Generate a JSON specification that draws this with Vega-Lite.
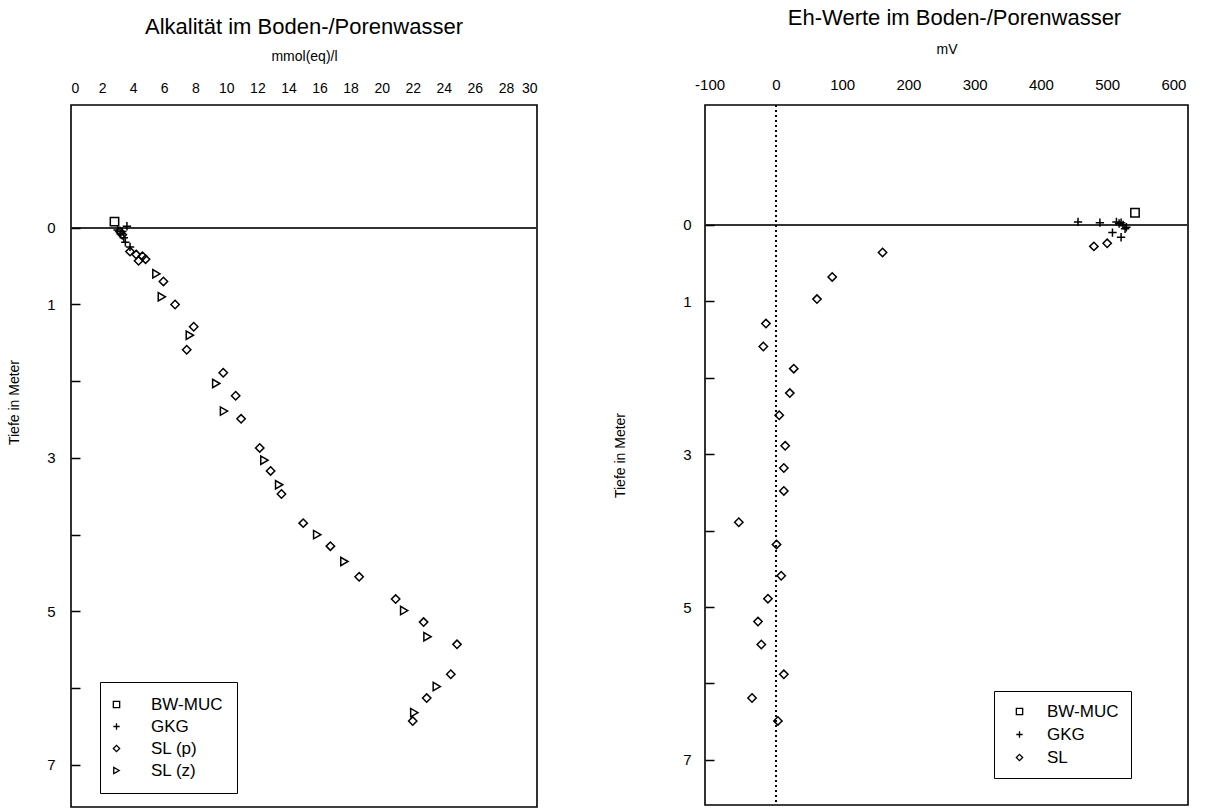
{
  "$schema": "https://vega.github.io/schema/vega-lite/v6.json",
  "background": "white",
  "padding": {"left": 6, "top": 6, "right": 5, "bottom": 0},
  "spacing": 73,
  "config": {
    "font": "Liberation Sans",
    "view": {"stroke": "black", "strokeWidth": 1.6},
    "title": {"fontSize": 22, "fontWeight": "normal", "color": "black", "font": "Liberation Sans"},
    "axis": {"grid": false, "domain": false, "labelColor": "black", "titleColor": "black", "labelFont": "Liberation Sans", "titleFont": "Liberation Sans", "titleFontWeight": "normal", "labelOverlap": false, "tickColor": "black"},
    "legend": {"strokeColor": "black", "fillColor": "white", "labelFont": "Liberation Sans", "labelColor": "black", "labelFontSize": 17, "symbolStrokeColor": "black", "symbolStrokeWidth": 1.3, "symbolSize": 40}
  },
  "resolve": {"scale": {"shape": "independent"}, "legend": {"shape": "independent"}},
  "hconcat": [
    {
      "width": 466,
      "height": 702,
      "title": {"text": "Alkalität im Boden-/Porenwasser", "offset": 10},
      "data": {"values": [
        {"v": 2.8, "d": -0.08, "s": "BW-MUC"},
        {"v": 3.0, "d": 0.03, "s": "GKG"},
        {"v": 3.2, "d": 0.08, "s": "GKG"},
        {"v": 3.6, "d": -0.02, "s": "GKG"},
        {"v": 3.4, "d": 0.13, "s": "GKG"},
        {"v": 3.5, "d": 0.19, "s": "GKG"},
        {"v": 3.8, "d": 0.25, "s": "GKG"},
        {"v": 3.3, "d": 0.05, "s": "GKG"},
        {"v": 3.15, "d": 0.05, "s": "SL (p)"},
        {"v": 3.3, "d": 0.09, "s": "SL (p)"},
        {"v": 3.8, "d": 0.31, "s": "SL (p)"},
        {"v": 4.2, "d": 0.35, "s": "SL (p)"},
        {"v": 4.35, "d": 0.43, "s": "SL (p)"},
        {"v": 4.6, "d": 0.37, "s": "SL (p)"},
        {"v": 4.8, "d": 0.41, "s": "SL (p)"},
        {"v": 5.95, "d": 0.70, "s": "SL (p)"},
        {"v": 6.7, "d": 1.0, "s": "SL (p)"},
        {"v": 7.9, "d": 1.29, "s": "SL (p)"},
        {"v": 7.45, "d": 1.59, "s": "SL (p)"},
        {"v": 9.8, "d": 1.89, "s": "SL (p)"},
        {"v": 10.6, "d": 2.19, "s": "SL (p)"},
        {"v": 10.95, "d": 2.49, "s": "SL (p)"},
        {"v": 12.15, "d": 2.87, "s": "SL (p)"},
        {"v": 12.85, "d": 3.17, "s": "SL (p)"},
        {"v": 13.55, "d": 3.47, "s": "SL (p)"},
        {"v": 14.95, "d": 3.85, "s": "SL (p)"},
        {"v": 16.7, "d": 4.15, "s": "SL (p)"},
        {"v": 18.55, "d": 4.55, "s": "SL (p)"},
        {"v": 20.9, "d": 4.84, "s": "SL (p)"},
        {"v": 22.7, "d": 5.14, "s": "SL (p)"},
        {"v": 24.85, "d": 5.43, "s": "SL (p)"},
        {"v": 24.45, "d": 5.82, "s": "SL (p)"},
        {"v": 22.9, "d": 6.13, "s": "SL (p)"},
        {"v": 22.0, "d": 6.43, "s": "SL (p)"},
        {"v": 5.5, "d": 0.60, "s": "SL (z)"},
        {"v": 5.85, "d": 0.90, "s": "SL (z)"},
        {"v": 7.65, "d": 1.40, "s": "SL (z)"},
        {"v": 9.35, "d": 2.03, "s": "SL (z)"},
        {"v": 9.85, "d": 2.39, "s": "SL (z)"},
        {"v": 12.45, "d": 3.03, "s": "SL (z)"},
        {"v": 13.4, "d": 3.35, "s": "SL (z)"},
        {"v": 15.85, "d": 4.0, "s": "SL (z)"},
        {"v": 17.6, "d": 4.35, "s": "SL (z)"},
        {"v": 21.45, "d": 4.99, "s": "SL (z)"},
        {"v": 22.95, "d": 5.33, "s": "SL (z)"},
        {"v": 23.55, "d": 5.98, "s": "SL (z)"},
        {"v": 22.1, "d": 6.32, "s": "SL (z)"}
      ]},
      "layer": [
        {
          "mark": {"type": "rule", "color": "#333", "strokeWidth": 1},
          "encoding": {"y": {"datum": 0, "type": "quantitative"}}
        },
        {
          "mark": {"type": "point", "filled": false, "color": "black", "strokeWidth": 1.5, "size": 70, "opacity": 1},
          "encoding": {
            "x": {"field": "v", "type": "quantitative", "scale": {"domain": [0, 30], "nice": false, "zero": false},
              "axis": {"orient": "top", "values": [0,2,4,6,8,10,12,14,16,18,20,22,24,26,28,30], "labelOverlap": false, "ticks": false, "labelPadding": 10, "labelFontSize": 14, "title": "mmol(eq)/l", "titleFontSize": 14, "titlePadding": 18}},
            "y": {"field": "d", "type": "quantitative", "scale": {"domain": [-1.6, 7.55], "reverse": true, "nice": false, "zero": false},
              "axis": {"orient": "left", "offset": -9, "zindex": 2, "values": [1,2,3,4,5,6,7,0], "format": "d", "labelExpr": "datum.value == 2 || datum.value == 4 || datum.value == 6 ? '' : datum.label", "ticks": true, "tickSize": 9, "tickWidth": 1.5, "tickColor": "black", "tickOpacity": 1, "labelPadding": 16, "labelFontSize": 15, "title": "Tiefe in Meter", "titleFontSize": 14, "titlePadding": 25, "titleY": 297}},
            "shape": {"field": "s", "type": "nominal",
              "scale": {"domain": ["BW-MUC", "GKG", "SL (p)", "SL (z)"], "range": ["square", "M-1,0L1,0M0,-1L0,1", "diamond", "triangle-right"]},
              "legend": {"title": null, "orient": "none", "legendX": 29, "legendY": 577, "padding": 14, "symbolOffset": -6, "labelOffset": 26, "rowPadding": 4}}
          }
        }
      ]
    },
    {
      "width": 483,
      "height": 700,
      "title": {"text": "Eh-Werte im Boden-/Porenwasser", "offset": 12, "dx": 8},
      "data": {"values": [
        {"v": 542, "d": -0.16, "s": "BW-MUC"},
        {"v": 456, "d": -0.04, "s": "GKG"},
        {"v": 489, "d": -0.03, "s": "GKG"},
        {"v": 514, "d": -0.04, "s": "GKG"},
        {"v": 521, "d": -0.03, "s": "GKG"},
        {"v": 524, "d": 0.0, "s": "GKG"},
        {"v": 529, "d": 0.03, "s": "GKG"},
        {"v": 508, "d": 0.10, "s": "GKG"},
        {"v": 521, "d": 0.16, "s": "GKG"},
        {"v": 518, "d": -0.02, "s": "GKG"},
        {"v": 527, "d": 0.05, "s": "GKG"},
        {"v": 480, "d": 0.28, "s": "SL"},
        {"v": 500, "d": 0.24, "s": "SL"},
        {"v": 161, "d": 0.36, "s": "SL"},
        {"v": 85, "d": 0.68, "s": "SL"},
        {"v": 62, "d": 0.97, "s": "SL"},
        {"v": -15, "d": 1.29, "s": "SL"},
        {"v": -19, "d": 1.59, "s": "SL"},
        {"v": 27, "d": 1.88, "s": "SL"},
        {"v": 21, "d": 2.2, "s": "SL"},
        {"v": 5, "d": 2.49, "s": "SL"},
        {"v": 14, "d": 2.89, "s": "SL"},
        {"v": 12, "d": 3.18, "s": "SL"},
        {"v": 12, "d": 3.48, "s": "SL"},
        {"v": -56, "d": 3.89, "s": "SL"},
        {"v": 1, "d": 4.18, "s": "SL"},
        {"v": 8, "d": 4.59, "s": "SL"},
        {"v": -12, "d": 4.89, "s": "SL"},
        {"v": -27, "d": 5.19, "s": "SL"},
        {"v": -22, "d": 5.49, "s": "SL"},
        {"v": 12, "d": 5.88, "s": "SL"},
        {"v": -36, "d": 6.19, "s": "SL"},
        {"v": 3, "d": 6.49, "s": "SL"}
      ]},
      "layer": [
        {
          "mark": {"type": "rule", "color": "#333", "strokeWidth": 1},
          "encoding": {"y": {"datum": 0, "type": "quantitative"}}
        },
        {
          "mark": {"type": "rule", "color": "black", "strokeWidth": 1.3, "strokeDash": [2, 3]},
          "encoding": {"x": {"datum": 0, "type": "quantitative"}}
        },
        {
          "mark": {"type": "point", "filled": false, "color": "black", "strokeWidth": 1.5, "size": 70, "opacity": 1},
          "encoding": {
            "x": {"field": "v", "type": "quantitative", "scale": {"domain": [-107, 622], "nice": false, "zero": false},
              "axis": {"orient": "top", "values": [-100,0,100,200,300,400,500,600], "format": "d", "labelExpr": "replace(datum.label, '−', '-')", "ticks": false, "labelPadding": 13, "labelFontSize": 15, "title": "mV", "titleFontSize": 14, "titlePadding": 21}},
            "y": {"field": "d", "type": "quantitative", "scale": {"domain": [-1.57, 7.59], "reverse": true, "nice": false, "zero": false},
              "axis": {"orient": "left", "offset": -9, "zindex": 2, "values": [1,2,3,4,5,6,7,0], "format": "d", "labelExpr": "datum.value == 2 || datum.value == 4 || datum.value == 6 ? '' : datum.label", "ticks": true, "tickSize": 9, "tickWidth": 1.5, "tickColor": "black", "tickOpacity": 1, "labelPadding": 14, "labelFontSize": 15, "title": "Tiefe in Meter", "titleFontSize": 14, "titlePadding": 55}},
            "shape": {"field": "s", "type": "nominal",
              "scale": {"domain": ["BW-MUC", "GKG", "SL"], "range": ["square", "M-1,0L1,0M0,-1L0,1", "diamond"]},
              "legend": {"title": null, "orient": "none", "legendX": 289, "legendY": 586, "padding": 12, "symbolOffset": 5, "labelOffset": 19, "rowPadding": 5}}
          }
        }
      ]
    }
  ]
}
